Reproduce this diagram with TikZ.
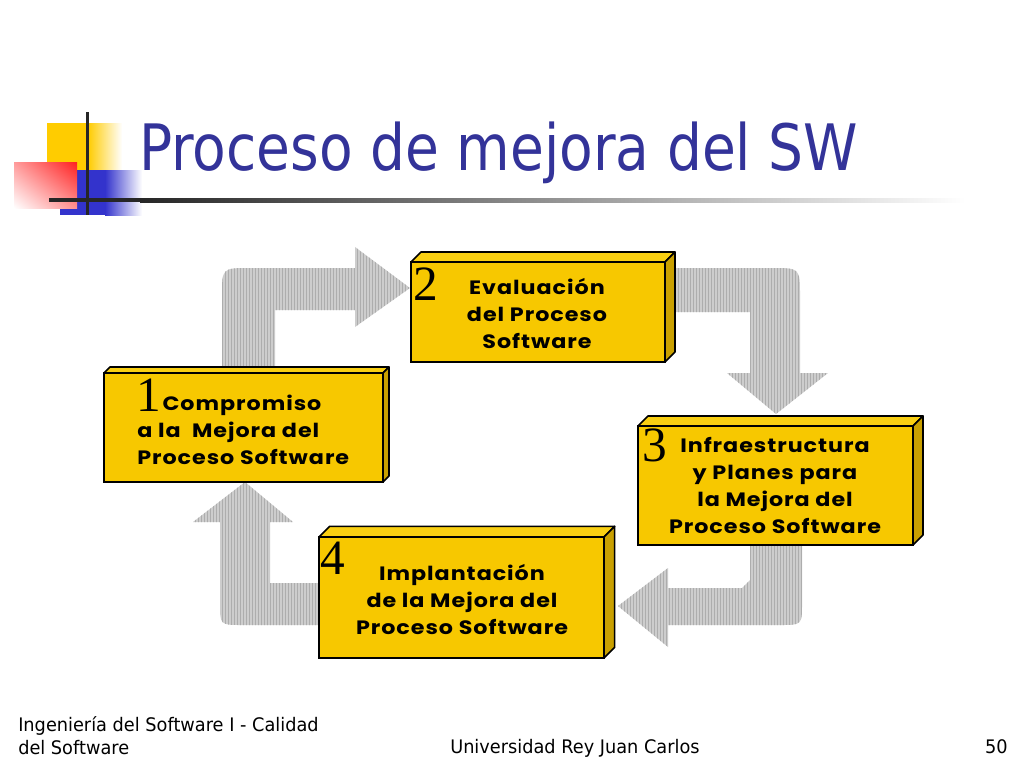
\documentclass[tikz,border=0pt]{standalone}
\usepackage{fontspec}
\usetikzlibrary{calc,shadings}
\newfontfamily\tahoma[FakeStretch=0.86]{DejaVu Sans}
\newfontfamily\tahomafoot[FakeStretch=0.95]{DejaVu Sans}
\newfontfamily\gothic[FakeStretch=1.15,LetterSpace=5]{Poppins}
\newfontfamily\numserif{Liberation Serif}
\definecolor{titleblue}{HTML}{333399}
\definecolor{logoyellow}{HTML}{FFCC00}
\definecolor{logoblue}{HTML}{3333CC}
\definecolor{logored}{HTML}{FF2020}
\definecolor{boxyellow}{HTML}{F7C800}
\definecolor{boxtopc}{HTML}{F9CF12}
\definecolor{boxsidec}{HTML}{C9A000}
\definecolor{arrowbase}{HTML}{CDCDCD}
\definecolor{stripec}{HTML}{ADADAD}
\newcommand\stripedarrow[1]{%
  \begin{scope}
    \clip #1;
    \fill[arrowbase] (150,200) rectangle (900,700);
    \foreach \xx in {150,153,...,900} {\draw[stripec, line width=0.75pt] (\xx,200) -- (\xx,700);}
  \end{scope}}
\tikzset{
  boxfront/.style={draw=black, line width=1.5pt, fill=boxyellow, outer sep=0pt, inner sep=0pt},
  boxtop/.style={draw=black, line width=1.2pt, fill=boxtopc, line join=round},
  boxside/.style={draw=black, line width=1.2pt, fill=boxsidec, line join=round},
  boxtxt/.style={font=\gothic\bfseries\fontsize{14.5}{20.25}\selectfont, align=center, inner sep=0pt, text=black},
  numtxt/.style={font=\numserif\fontsize{37}{37}\selectfont, inner sep=0pt, text=black},
  foot/.style={font=\tahomafoot\fontsize{14}{17.25}\selectfont, inner sep=0pt, text=black}
}
\begin{document}
\begin{tikzpicture}[x=0.75pt,y=-0.75pt]
\useasboundingbox (0,0) rectangle (1024,768);
\fill[white] (0,0) rectangle (1024,768);
% logo
\fill[logoyellow] (47,123) rectangle (88,170);
\shade[left color=logoyellow, right color=white] (88,123) rectangle (122,170);
\fill[logoblue] (60,170) rectangle (105,215);
\shade[left color=logoblue, right color=white] (105,170) rectangle (142,215);
\shade[upper right=logored, lower left=white, upper left=logored!45!white, lower right=logored!50!white] (14,162) rectangle (77,208);
\fill[black!85] (86,112) rectangle (89,215);
\fill[black!85] (49,198) rectangle (140,202);
\shade[left color=black!85, middle color=black!45, right color=white] (140,198) rectangle (965,202);
% title
\node[anchor=base west, font=\tahoma\fontsize{48}{58}\selectfont, text=titleblue, inner sep=0pt] (title) at (139,170) {Proceso de mejora del SW};
% arrows
\stripedarrow{(222,380) -- (222,296) .. controls (222,268) .. (250,268) -- (355,268) -- (355,247) -- (410,288) -- (355,327) -- (355,310) -- (275,310) -- (275,380) -- cycle}
\stripedarrow{(660,268) -- (772,268) .. controls (800,268) .. (800,296) -- (800,373) -- (828,373) -- (776,414) -- (727,373) -- (750,373) -- (750,312) -- (660,312) -- cycle}
\stripedarrow{(750,540) -- (802,540) -- (802,603) .. controls (802,625) .. (780,625) -- (668,625) -- (668,647) -- (618,606) -- (668,568) -- (668,588) -- (742,588) -- (750,580) -- cycle}
\stripedarrow{(325,583) -- (325,625) -- (242,625) .. controls (220,625) .. (220,603) -- (220,522) -- (193,522) -- (245,482) -- (293,522) -- (270,522) -- (270,583) -- cycle}
% box 1
\node[boxfront, minimum width=209.25pt, minimum height=81.75pt, anchor=north west] (b1) at (104,373) {};
\draw[boxtop] (b1.north west) -- ++(4.5pt,4.5pt) -- ($(b1.north east)+(4.5pt,4.5pt)$) -- (b1.north east) -- cycle;
\draw[boxside] (b1.north east) -- ++(4.5pt,4.5pt) -- ($(b1.south east)+(4.5pt,4.5pt)$) -- (b1.south east) -- cycle;
% box 2
\node[boxfront, minimum width=190.5pt, minimum height=75pt, anchor=north west] (b2) at (411,262) {};
\draw[boxtop] (b2.north west) -- ++(7.5pt,7.5pt) -- ($(b2.north east)+(7.5pt,7.5pt)$) -- (b2.north east) -- cycle;
\draw[boxside] (b2.north east) -- ++(7.5pt,7.5pt) -- ($(b2.south east)+(7.5pt,7.5pt)$) -- (b2.south east) -- cycle;
% box 3
\node[boxfront, minimum width=206.25pt, minimum height=89.25pt, anchor=north west] (b3) at (638,426) {};
\draw[boxtop] (b3.north west) -- ++(7.5pt,7.5pt) -- ($(b3.north east)+(7.5pt,7.5pt)$) -- (b3.north east) -- cycle;
\draw[boxside] (b3.north east) -- ++(7.5pt,7.5pt) -- ($(b3.south east)+(7.5pt,7.5pt)$) -- (b3.south east) -- cycle;
% box 4
\node[boxfront, minimum width=213.75pt, minimum height=90.75pt, anchor=north west] (b4) at (319,537) {};
\draw[boxtop] (b4.north west) -- ++(8pt,8pt) -- ($(b4.north east)+(8pt,8pt)$) -- (b4.north east) -- cycle;
\draw[boxside] (b4.north east) -- ++(8pt,8pt) -- ($(b4.south east)+(8pt,8pt)$) -- (b4.south east) -- cycle;
% numbers
\node[numtxt, anchor=base west] (n1) at (136,411) {1};
\node[numtxt, anchor=base west] (n2) at (413,300) {2};
\node[numtxt, anchor=base west] (n3) at (642,461) {3};
\node[numtxt, anchor=base west] (n4) at (320,574) {4};
% texts
\node[boxtxt, align=left, anchor=west] (t1) at (137,430) {\hspace*{19pt}Compromiso\\a la~ Mejora del\\Proceso Software};
\node[boxtxt] (t2) at (537,314) {Evaluación\\del Proceso\\Software};
\node[boxtxt] (t3) at (775,485) {Infraestructura\\y Planes para\\la Mejora del\\Proceso Software};
\node[boxtxt] (t4) at (462,600) {Implantación\\de la Mejora del\\Proceso Software};
% footer
\node[foot, align=left, anchor=north west] (f1) at (18,716) {Ingeniería del Software I - Calidad\\del Software};
\node[foot, anchor=base west] (f2) at (450,753) {Universidad Rey Juan Carlos};
\node[foot, anchor=base east] (f3) at (1008,753) {50};
\end{tikzpicture}
\end{document}
